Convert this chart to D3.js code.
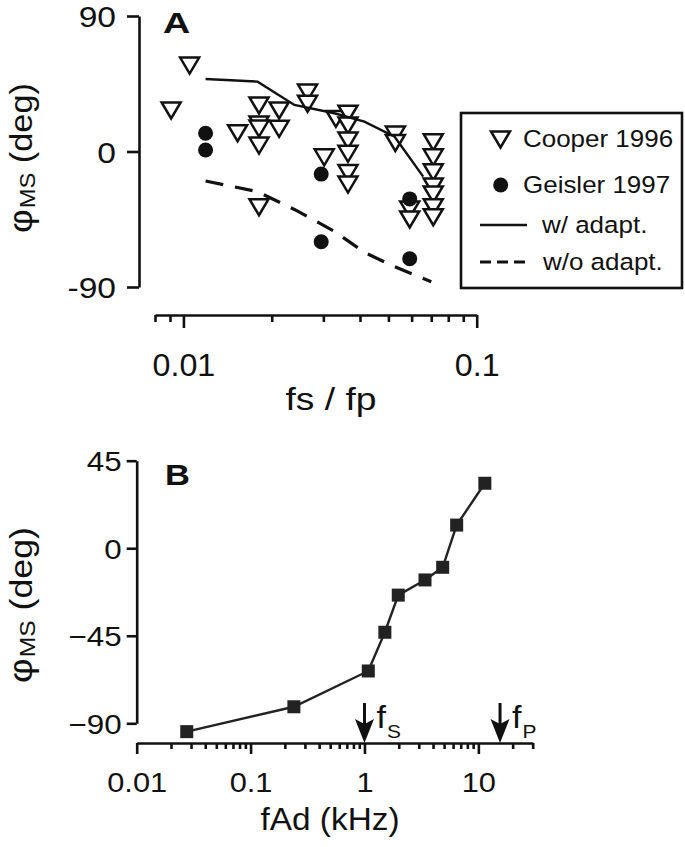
<!DOCTYPE html>
<html>
<head>
<meta charset="utf-8">
<script src="https://cdn.jsdelivr.net/npm/d3@7/dist/d3.min.js"></script>
<style>
  html, body { margin: 0; padding: 0; background: #fff; }
  svg { display: block; }
  text { font-family: "Liberation Sans", Arial, Helvetica, sans-serif; fill: #111; }
</style>
</head>
<body>
<svg id="chart" width="685" height="847"></svg>
<script>
// ---------- Panel A data ----------
const cooperX = [0.00908, 0.0105, 0.0153,
  0.0181, 0.0181, 0.0181, 0.0181, 0.0181,
  0.0212, 0.0212, 0.0265, 0.0265, 0.0302, 0.0331,
  0.0364, 0.0364, 0.0364, 0.0364, 0.0364, 0.0364,
  0.0528, 0.0528,
  0.0591, 0.0591,
  0.0711, 0.0711, 0.0711, 0.0711, 0.0711, 0.0711, 0.0711];
const cooperY = [27.6, 57.4, 12.5,
  30.9, 18.3, 15.6, 4.3, -36.7,
  27.6, 15.4, 39.5, 32.0, -3.5, 22.0,
  25.4, 17.6, 7.6, -1.2, -14.0, -21.6,
  11.6, 6.0,
  -38.2, -44.8,
  6.5, -3.5, -13.4, -22.9, -28.2, -36.7, -43.3];
const geislerX = [0.0119, 0.0119, 0.0295, 0.0295, 0.0591, 0.0591];
const geislerY = [12.1, 1.0, -15.0, -59.9, -31.5, -71.2];
const adaptX = [0.0119, 0.0179, 0.0239, 0.0327, 0.0414, 0.0525, 0.0657];
const adaptY = [48.2, 46.4, 30.9, 25.4, 19.8, 9.8, -16.7];
const noAdaptX = [0.0119, 0.0179, 0.0239, 0.0327, 0.0414, 0.0525, 0.0700];
const noAdaptY = [-19.6, -26.7, -38.5, -53.0, -67.0, -76.5, -86.5];
const aYTicks = [-90, 0, 90];
const aXTicks = [0.01, 0.1];
const aXMinor = [0.008, 0.009, 0.02, 0.03, 0.04, 0.05, 0.06, 0.07, 0.08, 0.09];
const legendLabels = ["Cooper 1996", "Geisler 1997", "w/ adapt.", "w/o adapt."];

// ---------- Panel B data ----------
const bX = [0.0275, 0.240, 1.08, 1.51, 1.98, 3.40, 4.86, 6.45, 11.4];
const bY = [-94.3, -81.5, -63.1, -43.2, -24.1, -16.3, -9.8, 11.9, 33.4];
const bYTicks = [-90, -45, 0, 45];
const bXTicks = [0.01, 0.1, 1, 10];
const bXMinor = [0.02,0.03,0.04,0.05,0.06,0.07,0.08,0.09,
                 0.2,0.3,0.4,0.5,0.6,0.7,0.8,0.9,
                 2,3,4,5,6,7,8,9,20,30];
const arrowX = [1, 15.5];
const arrowSub = ["S", "P"];

const svg = d3.select("#chart");
const ink = "#111";

function styleAxis(g, w) {
  g.selectAll("path.domain").attr("stroke", ink).attr("stroke-width", w);
  g.selectAll(".tick line").attr("stroke", ink).attr("stroke-width", w);
}
// horizontally stretched text helper
function htext(x, y, str, size, sx, anchor, weight) {
  const g = svg.append("g").attr("transform", `translate(${x},${y}) scale(${sx},1)`);
  const t = g.append("text").attr("text-anchor", anchor || "start")
    .style("font-size", size + "px").text(str);
  if (weight) t.style("font-weight", weight);
  return t;
}
// restyle axis tick labels with horizontal stretch
function stretchTicks(g, size, sx) {
  g.selectAll(".tick text").each(function() {
    const el = d3.select(this);
    el.style("font-size", size + "px")
      .attr("transform", `scale(${sx},1)`)
      .attr("x", (+el.attr("x") || 0) / sx);
  });
}

// ================= Panel A =================
const xA = d3.scaleLog().domain([0.008, 0.1]).range([155, 476.7]);
const yA = d3.scaleLinear().domain([-90, 90]).range([287, 16]);
const axA_x = 139, axA_y = 315;

// y axis
const gAy = svg.append("g").attr("transform", `translate(${axA_x},0)`)
  .call(d3.axisLeft(yA).tickValues(aYTicks).tickSize(12).tickSizeOuter(0)
        .tickFormat(d => String(d)));
gAy.selectAll("text").attr("x", -23).attr("dy", "0.36em").attr("fill", ink);
stretchTicks(gAy, 30, 1.12);
styleAxis(gAy, 2.6);

// x axis (major + minor)
const gAxMinor = svg.append("g").attr("transform", `translate(0,${axA_y})`)
  .call(d3.axisBottom(xA).tickValues(aXMinor).tickSize(7).tickSizeOuter(0).tickFormat(""));
styleAxis(gAxMinor, 2.6);
const gAx = svg.append("g").attr("transform", `translate(0,${axA_y})`)
  .call(d3.axisBottom(xA).tickValues(aXTicks).tickSize(13).tickSizeOuter(0)
        .tickFormat(d => String(d)));
gAx.select("path.domain").remove();
gAx.selectAll("text").attr("y", 61).attr("dy", null).attr("fill", ink);
stretchTicks(gAx, 31, 1.04);
styleAxis(gAx, 2.6);

// markers: Cooper (inverted triangles)
const tri = "M-9.5,-7.5 L9.5,-7.5 L0,8.5 Z";
svg.append("g").selectAll("path").data(cooperX.map((x, i) => [x, cooperY[i]]))
  .join("path")
  .attr("d", tri)
  .attr("transform", d => `translate(${xA(d[0])},${yA(d[1])})`)
  .attr("fill", "#fff").attr("stroke", ink).attr("stroke-width", 2.5);

// Geisler circles
svg.append("g").selectAll("circle").data(geislerX.map((x, i) => [x, geislerY[i]]))
  .join("circle")
  .attr("cx", d => xA(d[0])).attr("cy", d => yA(d[1])).attr("r", 7.5)
  .attr("fill", ink);

// model lines
const lineA = d3.line().x(d => xA(d[0])).y(d => yA(d[1]));
svg.append("path").datum(adaptX.map((x, i) => [x, adaptY[i]]))
  .attr("d", lineA).attr("fill", "none").attr("stroke", ink).attr("stroke-width", 2.4);
svg.append("path").datum(noAdaptX.map((x, i) => [x, noAdaptY[i]]))
  .attr("d", lineA).attr("fill", "none").attr("stroke", ink).attr("stroke-width", 3.2)
  .attr("stroke-dasharray", "18,12");

// Panel label
htext(163, 33, "A", 29, 1.3, "start", "bold");

// axis titles
function yTitle(cx, cy, len) {
  const t = svg.append("text")
    .attr("transform", `translate(${cx},${cy}) rotate(-90)`)
    .attr("text-anchor", "middle");
  t.append("tspan").text("φ").style("font-size", "34px");
  t.append("tspan").text("MS").style("font-size", "22px").attr("dy", 3).attr("dx", 1);
  t.append("tspan").text(" (deg)").style("font-size", "32px").attr("dy", -3);
  t.attr("textLength", len).attr("lengthAdjust", "spacingAndGlyphs");
}
yTitle(32, 158, 150);

htext(331, 410, "fs / fp", 31, 1.2, "middle");

// legend
const leg = svg.append("g");
leg.append("rect").attr("x", 461).attr("y", 113).attr("width", 221).attr("height", 175)
  .attr("fill", "#fff").attr("stroke", ink).attr("stroke-width", 2.6);
const legRows = [139, 185, 225, 262];
leg.append("path").attr("d", tri).attr("transform", `translate(500.5,${legRows[0]})`)
  .attr("fill", "#fff").attr("stroke", ink).attr("stroke-width", 2.5);
leg.append("circle").attr("cx", 500.7).attr("cy", legRows[1]).attr("r", 7.5).attr("fill", ink);
leg.append("line").attr("x1", 480).attr("x2", 527).attr("y1", legRows[2]).attr("y2", legRows[2])
  .attr("stroke", ink).attr("stroke-width", 2.4);
leg.append("line").attr("x1", 480).attr("x2", 527).attr("y1", legRows[3]).attr("y2", legRows[3])
  .attr("stroke", ink).attr("stroke-width", 3).attr("stroke-dasharray", "11,6");
const legTextX = [523, 523, 542, 543];
legendLabels.forEach((d, i) => htext(legTextX[i], legRows[i] + 8, d, 24.5, 1.06, "start"));

// ================= Panel B =================
const xB = d3.scaleLog().domain([0.01, 30]).range([136.7, 532.7]);
const yB = d3.scaleLinear().domain([-90, 45]).range([723.3, 460.7]);
const axB_x = 136.7, axB_y = 743;

const gBy = svg.append("g").attr("transform", `translate(${axB_x},0)`)
  .call(d3.axisLeft(yB).tickValues(bYTicks).tickSize(10).tickSizeOuter(0));
gBy.selectAll("text").attr("x", -15).attr("dy", "0.36em").attr("fill", ink);
stretchTicks(gBy, 28, 1.12);
styleAxis(gBy, 2.6);

const gBxMinor = svg.append("g").attr("transform", `translate(0,${axB_y})`)
  .call(d3.axisBottom(xB).tickValues(bXMinor).tickSize(6).tickSizeOuter(0).tickFormat(""));
styleAxis(gBxMinor, 2.6);
const gBx = svg.append("g").attr("transform", `translate(0,${axB_y})`)
  .call(d3.axisBottom(xB).tickValues(bXTicks).tickSize(11).tickSizeOuter(0)
        .tickFormat(d => String(d)));
gBx.select("path.domain").remove();
gBx.selectAll("text").attr("y", 49).attr("dy", null).attr("fill", ink);
stretchTicks(gBx, 28.5, 1.08);
styleAxis(gBx, 2.6);

// line + squares
const lineB = d3.line().x(d => xB(d[0])).y(d => yB(d[1]));
const bData = bX.map((x, i) => [x, bY[i]]);
svg.append("path").datum(bData).attr("d", lineB)
  .attr("fill", "none").attr("stroke", "#222").attr("stroke-width", 2.4);
svg.append("g").selectAll("rect").data(bData).join("rect")
  .attr("x", d => xB(d[0]) - 6.5).attr("y", d => yB(d[1]) - 6.5)
  .attr("width", 13).attr("height", 13).attr("fill", "#222");

// arrows f_S, f_P
arrowX.forEach((v, i) => {
  const x = xB(v);
  svg.append("line").attr("x1", x).attr("x2", x).attr("y1", 703).attr("y2", 728)
    .attr("stroke", ink).attr("stroke-width", 3);
  svg.append("path")
    .attr("d", `M${x - 9.5},${719} L${x},${724} L${x + 9.5},${719} L${x},${743} Z`)
    .attr("fill", ink);
  const g = svg.append("g").attr("transform", `translate(${x + 12},728) scale(1.1,1)`);
  const t = g.append("text");
  t.append("tspan").text("f").style("font-size", "31px");
  t.append("tspan").text(arrowSub[i]).style("font-size", "19px").attr("dy", 10).attr("dx", 1);
});

htext(165, 485, "B", 30, 1.15, "start", "bold");

yTitle(32, 605, 156);

htext(330, 830, "fAd (kHz)", 31.5, 1.06, "middle");
</script>
</body>
</html>
